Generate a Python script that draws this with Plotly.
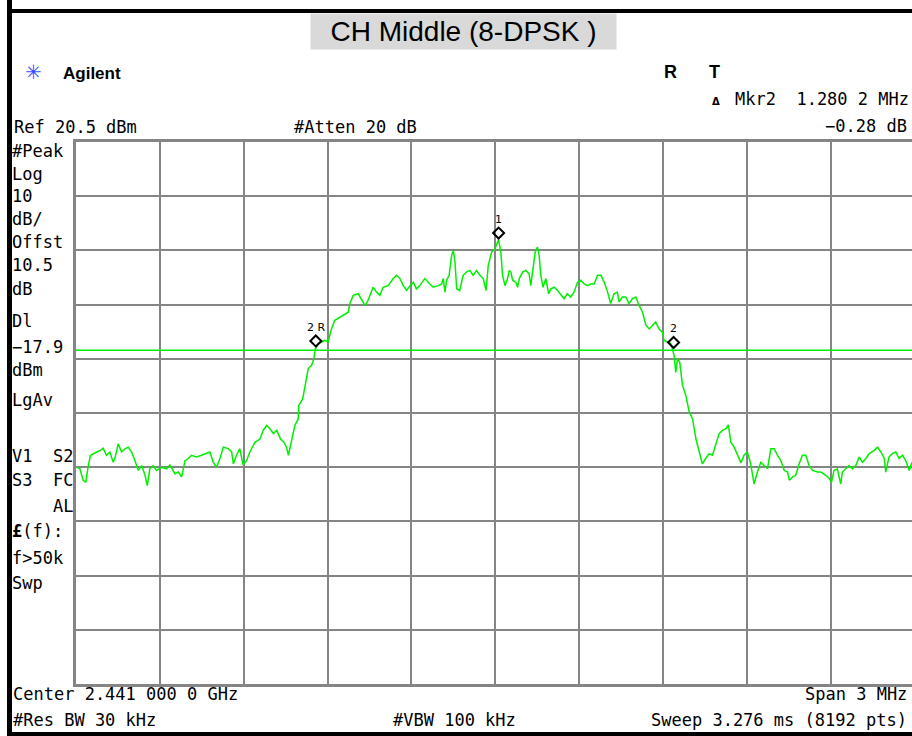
import plotly.graph_objects as go

# ---------------- data ----------------
center_mhz = 2441.0
span_mhz = 3.0
ref_level_dbm = 20.5
db_per_div = 10
display_line_dbm = -17.9

freq_offset_mhz = [
    -1.498, -1.486, -1.474, -1.465, -1.456, -1.448, -1.426, -1.412, -1.403, -1.391,
    -1.379, -1.367, -1.361, -1.349, -1.337, -1.325, -1.313, -1.301, -1.289, -1.277,
    -1.265, -1.253, -1.245, -1.236, -1.224, -1.212, -1.194, -1.176, -1.164, -1.146,
    -1.134, -1.122, -1.110, -1.098, -1.087, -1.069, -1.051, -1.033, -1.021, -1.009,
    -0.997, -0.985, -0.973, -0.955, -0.943, -0.937, -0.926, -0.914, -0.902, -0.890,
    -0.878, -0.860, -0.842, -0.830, -0.818, -0.806, -0.794, -0.782, -0.768, -0.756,
    -0.747, -0.740, -0.729, -0.717, -0.705, -0.703, -0.689, -0.677, -0.669, -0.657,
    -0.649, -0.644, -0.633, -0.621, -0.610, -0.598, -0.586, -0.574, -0.556, -0.538,
    -0.526, -0.520, -0.508, -0.490, -0.478, -0.466, -0.455, -0.437, -0.425, -0.413,
    -0.401, -0.383, -0.365, -0.353, -0.341, -0.329, -0.317, -0.305, -0.293, -0.282,
    -0.270, -0.252, -0.234, -0.222, -0.204, -0.192, -0.186, -0.180, -0.174, -0.165,
    -0.156, -0.150, -0.144, -0.138, -0.127, -0.115, -0.103, -0.091, -0.079, -0.067,
    -0.055, -0.043, -0.033, -0.025, -0.013, -0.001,
    0.012, 0.020, 0.026, 0.035, 0.044, 0.050, 0.056, 0.062, 0.074, 0.080,
    0.086, 0.098, 0.109, 0.121, 0.127, 0.133, 0.143, 0.151, 0.157, 0.163,
    0.171, 0.181, 0.191, 0.199, 0.211, 0.223, 0.235, 0.246, 0.258, 0.270,
    0.282, 0.294, 0.306, 0.318, 0.330, 0.342, 0.354, 0.366, 0.378, 0.390,
    0.402, 0.413, 0.425, 0.437, 0.443, 0.455, 0.467, 0.479, 0.491, 0.503,
    0.515, 0.527, 0.539, 0.551, 0.563, 0.574, 0.586, 0.598, 0.604, 0.616,
    0.628, 0.634, 0.640, 0.646, 0.652, 0.660, 0.670, 0.682, 0.694, 0.706,
    0.718, 0.730, 0.741, 0.753, 0.765, 0.777, 0.789, 0.801, 0.813, 0.825,
    0.834, 0.843, 0.855, 0.867, 0.879, 0.890, 0.902, 0.914, 0.926, 0.938,
    0.950, 0.962, 0.974, 0.986, 0.998, 1.010, 1.022, 1.034, 1.046, 1.052,
    1.064, 1.075, 1.087, 1.099, 1.111, 1.123, 1.135, 1.153, 1.165, 1.183,
    1.195, 1.203, 1.212, 1.224, 1.236, 1.242, 1.254, 1.266, 1.278, 1.290,
    1.302, 1.314, 1.326, 1.338, 1.356, 1.368, 1.380, 1.392, 1.397, 1.409,
    1.421, 1.433, 1.445, 1.457, 1.469, 1.481, 1.491,
]

level_dbm = [
    -39.5, -39.8, -41.9, -42.3, -39.2, -37.3, -36.7, -36.4, -36.0, -37.3,
    -36.7, -38.6, -37.9, -35.2, -36.7, -36.1, -35.8, -36.7, -38.3, -40.1,
    -39.2, -41.0, -42.9, -39.8, -39.2, -40.1, -39.5, -39.8, -39.1, -40.7,
    -40.4, -41.3, -38.3, -37.9, -37.3, -37.6, -37.3, -37.0, -36.7, -38.6,
    -39.5, -37.9, -35.8, -36.1, -36.7, -38.9, -37.3, -36.1, -39.1, -38.3,
    -36.7, -34.9, -34.3, -32.7, -31.8, -32.4, -33.3, -32.7, -34.3, -34.9,
    -35.8, -37.3, -34.9, -31.8, -30.6, -28.1, -26.9, -23.2, -21.3, -20.7,
    -19.5, -17.7, -16.7, -16.4, -16.1, -16.4, -14.0, -12.4, -11.8, -11.2,
    -10.9, -9.3, -7.8, -7.5, -8.7, -9.7, -8.7, -6.3, -7.2, -7.8,
    -6.3, -6.0, -4.7, -4.1, -4.7, -6.0, -6.9, -6.0, -5.4, -6.6,
    -6.0, -4.7, -5.7, -6.3, -6.0, -5.7, -4.7, -7.2, -5.0, -4.1,
    -0.4, 0.5, -1.7, -6.6, -6.9, -4.1, -3.5, -3.2, -4.1, -3.2,
    -4.1, -4.7, -6.9, -2.3, 0.2, 0.8,
    2.5, 0.2, -4.1, -6.0, -4.7, -3.2, -3.5, -5.0, -5.4, -6.3,
    -4.7, -3.5, -3.2, -3.8, -6.0, -3.5, 0.2, 1.1, -0.4, -4.1,
    -6.3, -4.7, -7.5, -6.6, -6.3, -6.9, -7.8, -8.4, -7.5, -8.1,
    -7.2, -5.4, -5.0, -5.7, -6.0, -5.7, -5.7, -4.1, -4.1, -5.4,
    -7.2, -9.3, -7.5, -7.2, -9.0, -8.1, -8.1, -9.3, -8.4, -8.1,
    -9.7, -10.9, -13.3, -14.0, -13.3, -12.7, -14.0, -14.6, -16.1, -16.4,
    -16.7, -17.7, -18.9, -22.0, -19.5, -20.1, -24.4, -26.3, -29.3, -30.6,
    -34.3, -36.7, -38.9, -37.9, -37.0, -37.3, -35.5, -33.3, -32.7, -32.4,
    -31.7, -34.9, -35.8, -37.3, -38.7, -37.3, -36.7, -38.9, -42.6, -40.4,
    -38.6, -39.2, -39.8, -36.1, -36.1, -37.3, -38.3, -40.1, -40.4, -41.9,
    -41.3, -41.0, -38.9, -37.3, -37.3, -39.2, -40.1, -40.4, -40.4, -41.0,
    -41.6, -42.3, -40.1, -39.8, -42.6, -40.4, -39.8, -39.2, -39.8, -39.2,
    -37.6, -38.6, -37.9, -37.0, -36.4, -35.8, -36.7, -37.9, -40.4, -37.6,
    -37.0, -36.7, -37.9, -37.3, -38.3, -40.1, -38.6,
]

marker_labels = ["1", "2\u00a0R", "2"]
marker_offset_mhz = [0.012, -0.642, 0.638]
marker_level_dbm = [2.5, -17.4, -17.68]

title_text = "CH Middle (8-DPSK )"

# ---------------- layout geometry ----------------
W, H = 912, 736
ML, MR, MT, MB = 76, 0, 142, 52
PW = W - ML - MR
PH = H - MT - MB
DIV_PX = 83.85  # pixel width of one horizontal division


def px(X):
    return (X - ML) / PW


def py(Y):
    return (H - MB - Y) / PH


freq_mhz = [center_mhz + f for f in freq_offset_mhz]
x_start = center_mhz - span_mhz / 2
x_end = x_start + PW / DIV_PX * (span_mhz / 10)
y_top = ref_level_dbm
y_bot = ref_level_dbm - 10 * db_per_div

GREEN = "#00ee00"
GRID = "#858585"
MONO = "DejaVu Sans Mono"

fig = go.Figure()
fig.add_trace(go.Scatter(
    x=freq_mhz, y=level_dbm, mode="lines",
    line=dict(color=GREEN, width=1.5), hoverinfo="skip", showlegend=False,
))

shapes = []
# display line
shapes.append(dict(type="line", xref="paper", yref="y", x0=0, x1=1,
                   y0=display_line_dbm, y1=display_line_dbm,
                   line=dict(color=GREEN, width=1.5)))
# marker diamonds
for off, lev in zip(marker_offset_mhz, marker_level_dbm):
    shapes.append(dict(type="path", xref="x", yref="y",
                       xsizemode="pixel", ysizemode="pixel",
                       xanchor=center_mhz + off, yanchor=lev,
                       path="M0,1 L5.5,6.5 L0,12 L-5.5,6.5 Z",
                       line=dict(color="black", width=2),
                       fillcolor="rgba(0,0,0,0)"))
# black frame bars
for (X0, X1, Y0, Y1) in [(7, 12, 0, 736), (7, 912, 9, 13), (7, 912, 732, 736)]:
    shapes.append(dict(type="rect", xref="paper", yref="paper",
                       x0=px(X0), x1=px(X1), y0=py(Y1), y1=py(Y0),
                       fillcolor="black", line=dict(width=0), layer="above"))

ann = []


def txt(text, X, Y, anchor="left", size=17, family=MONO, color="black", **kw):
    ann.append(dict(text=text, x=px(X), y=py(Y), xref="paper", yref="paper",
                    xanchor=anchor, yanchor="middle", showarrow=False,
                    font=dict(family=family, size=size, color=color), **kw))


NB = "\u00a0"
# title
ann.append(dict(text=title_text, x=px(463), y=py(31.5), xref="paper", yref="paper",
                xanchor="center", yanchor="middle", showarrow=False,
                font=dict(family="Liberation Sans", size=28, color="black"),
                bgcolor="#d9d9d9", width=305, height=35, borderpad=0))
# header
txt("\u2733", 33, 72, anchor="center", size=20, family="DejaVu Sans", color="#3a50ff")
txt("<b>Agilent</b>", 61, 73, size=17, family="Liberation Sans")
txt("<b>R</b>", 662, 72, size=18, family="Liberation Sans")
txt("<b>T</b>", 707, 72, size=18, family="Liberation Sans")
txt("<b>\u0394</b>", 716, 101, anchor="center", size=10, family="DejaVu Sans")
txt("Mkr2" + NB * 2 + "1.280 2 MHz", 911, 99, anchor="right")
txt("Ref 20.5 dBm", 12, 127)
txt("#Atten 20 dB", 292, 127)
txt("\u22120.28 dB", 909, 126, anchor="right")

# left column
left_rows = [
    ("#Peak", 151), ("Log", 174), ("10", 196), ("dB/", 219), ("Offst", 242),
    ("10.5", 265), ("dB", 289), ("Dl", 321), ("\u221217.9", 347), ("dBm", 370),
    ("LgAv", 400), ("V1" + NB * 2 + "S2", 456), ("S3" + NB * 2 + "FC", 480),
    (NB * 4 + "AL", 506), ("<b>\u00a3</b>(f):", 531), ("f>50k", 558), ("Swp", 583),
]
for t, yy in left_rows:
    txt(t, 10, yy)

# bottom
txt("Center 2.441 000 0 GHz", 11, 694)
txt("Span 3 MHz", 909, 694, anchor="right")
txt("#Res BW 30 kHz", 11, 720)
txt("#VBW 100 kHz", 391, 720)
txt("Sweep 3.276 ms (8192 pts)", 909, 720, anchor="right")

# marker labels
for lab, off, lev in zip(marker_labels, marker_offset_mhz, marker_level_dbm):
    ann.append(dict(text=lab, x=center_mhz + off, y=lev, xref="x", yref="y",
                    xanchor="center", yanchor="middle", showarrow=False, yshift=20,
                    font=dict(family="DejaVu Sans", size=11, color="black")))

fig.update_layout(
    width=W, height=H,
    margin=dict(l=ML, r=MR, t=MT, b=MB, pad=0),
    paper_bgcolor="white", plot_bgcolor="white",
    showlegend=False,
    shapes=shapes, annotations=ann,
    xaxis=dict(range=[x_start, x_end], tick0=x_start, dtick=span_mhz / 10,
               showgrid=True, gridcolor=GRID, gridwidth=2, zeroline=False,
               showticklabels=False, ticks="", showline=True, mirror=True,
               linecolor=GRID, linewidth=3, fixedrange=True),
    yaxis=dict(range=[y_bot, y_top], tick0=y_top, dtick=db_per_div,
               showgrid=True, gridcolor=GRID, gridwidth=2, zeroline=False,
               showticklabels=False, ticks="", showline=True, mirror=False,
               linecolor=GRID, linewidth=3, fixedrange=True),
)

fig.write_html("out.html", config={"displayModeBar": False},
               post_script="document.body.style.margin='0';document.body.style.overflow='hidden';")
